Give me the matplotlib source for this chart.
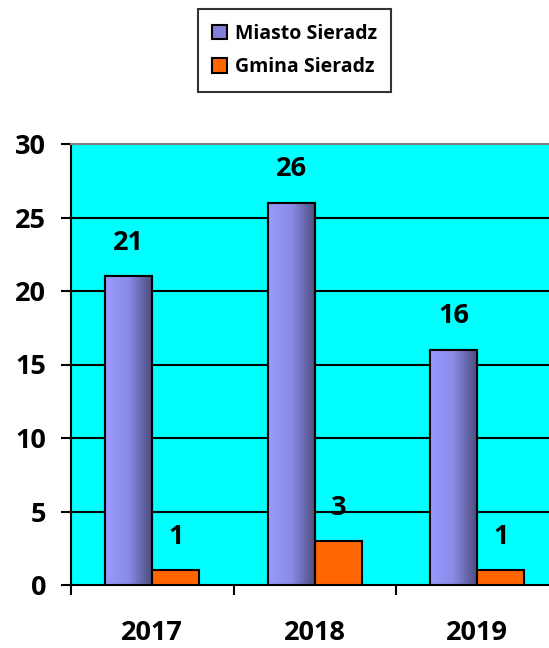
import matplotlib
matplotlib.use("Agg")
import matplotlib.pyplot as plt
import numpy as np
from matplotlib.patches import Patch
from matplotlib.colors import LinearSegmentedColormap

years = ["2017", "2018", "2019"]
miasto = [21, 26, 16]
gmina = [1, 3, 1]
series_names = ["Miasto Sieradz", "Gmina Sieradz"]
yticks = [0, 5, 10, 15, 20, 25, 30]

FONT = "Open Sans"
plt.rcParams['font.family'] = [FONT, 'DejaVu Sans']

fig = plt.figure(figsize=(5.49, 6.48), dpi=100)
ax = fig.add_axes([71/549, 1-585/648, (558.5-71)/549, (585-144)/648])
ax.set_facecolor("#00FFFF")

centers = np.arange(len(years)) + 0.5
w = 0.29

ax.set_xlim(0, 3)
ax.set_ylim(0, 30)

for y in yticks[1:-1]:
    ax.axhline(y, color="black", lw=1.5, zorder=1)

bars1 = ax.bar(centers - w/2, miasto, width=w, color="#8c8ce0", edgecolor="black", lw=1.5, zorder=3)
bars2 = ax.bar(centers + w/2, gmina, width=w, color="#FF6600", edgecolor="black", lw=1.5, zorder=3)

cmap = LinearSegmentedColormap.from_list("pg", ["#9a9aff", "#8a8ae6", "#4a4a7a"])
grad = np.linspace(0, 1, 256).reshape(1, -1)
for b in bars1:
    x0 = b.get_x(); x1 = x0 + b.get_width(); h = b.get_height()
    im = ax.imshow(grad, cmap=cmap, aspect="auto", extent=[x0, x1, 0, h], zorder=3.5)
    im.set_clip_path(b)
    ax.bar(b.get_x() + b.get_width()/2, h, width=b.get_width(), fill=False, edgecolor="black", lw=1.5, zorder=4)
ax.set_xlim(0, 3)
ax.set_ylim(0, 30)

for b, v in list(zip(bars1, miasto)) + list(zip(bars2, gmina)):
    ax.annotate(str(v), (b.get_x() + b.get_width()/2, v), xytext=(0, 24), textcoords="offset points",
                ha="center", va="center", fontsize=19.5, fontweight="bold", zorder=5)

ax.set_yticks(yticks)
ax.set_yticklabels([str(t) for t in yticks], fontsize=19.5, fontweight="bold")
ax.tick_params(axis="y", direction="out", length=7, width=1.5, pad=11)

ax.set_xticks([0, 1, 2, 3])
ax.set_xticklabels([])
ax.set_xticks(centers, minor=True)
ax.set_xticklabels(years, minor=True, fontsize=19.5, fontweight="bold")
ax.tick_params(axis="x", which="major", direction="out", length=7, width=1.5)
ax.tick_params(axis="x", which="minor", length=0, pad=25)

for s in ["left", "bottom"]:
    ax.spines[s].set_linewidth(1.5)
    ax.spines[s].set_color("black")
ax.spines["top"].set_color("#808080")
ax.spines["top"].set_linewidth(1.5)
ax.spines["right"].set_visible(False)

handles = [Patch(facecolor="#8080d8", edgecolor="black", lw=1.5),
           Patch(facecolor="#FF6600", edgecolor="black", lw=1.5)]
leg = fig.legend(handles, series_names, loc="center", bbox_to_anchor=(294.5/549, 1-50.5/648),
                 prop={"family": FONT, "weight": "bold", "size": 14},
                 frameon=True, fancybox=False, edgecolor="black", borderpad=0.75,
                 handlelength=0.75, handleheight=0.75, handletextpad=0.4, labelspacing=0.7,
                 borderaxespad=0)
leg.get_frame().set_linewidth(1.5)

fig.savefig("out.png", dpi=100)
